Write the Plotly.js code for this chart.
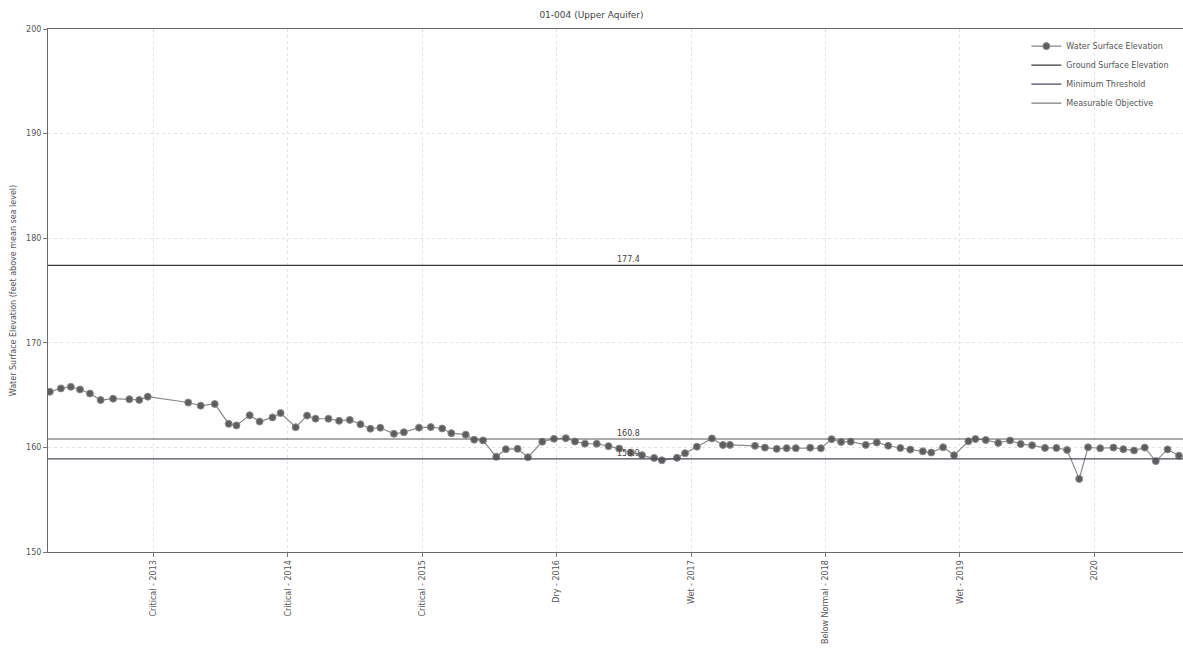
<!DOCTYPE html>
<html><head><meta charset="utf-8">
<script src="https://cdn.plot.ly/plotly-3.0.1.min.js"></script>
<style>html,body{margin:0;padding:0;background:#fff}#chart{width:1183px;height:656px}</style>
</head><body><div id="chart"></div>
<script>
const chartTitle = "01-004 (Upper Aquifer)";
const yAxisTitle = "Water Surface Elevation (feet above mean sea level)";

const sampleDates = [
"2012-03-25","2012-04-24","2012-05-21","2012-06-15","2012-07-12","2012-08-10","2012-09-13","2012-10-27","2012-11-23","2012-12-16",
"2013-04-05","2013-05-09","2013-06-16","2013-07-24","2013-08-14","2013-09-19","2013-10-16","2013-11-20","2013-12-12",
"2014-01-22","2014-02-22","2014-03-17","2014-04-21","2014-05-20","2014-06-18","2014-07-17","2014-08-13","2014-09-09","2014-10-16","2014-11-12","2014-12-23",
"2015-01-24","2015-02-24","2015-03-21","2015-04-29","2015-05-22","2015-06-15","2015-07-21","2015-08-16","2015-09-17","2015-10-15","2015-11-23","2015-12-25",
"2016-01-26","2016-02-20","2016-03-18","2016-04-19","2016-05-21","2016-06-19","2016-07-21","2016-08-20","2016-09-22","2016-10-13","2016-11-23","2016-12-15",
"2017-01-16","2017-02-26","2017-03-28","2017-04-16","2017-06-23","2017-07-20","2017-08-21","2017-09-17","2017-10-12","2017-11-20","2017-12-19",
"2018-01-17","2018-02-12","2018-03-10","2018-04-20","2018-05-20","2018-06-20","2018-07-23","2018-08-19","2018-09-22","2018-10-15","2018-11-16","2018-12-16",
"2019-01-24","2019-02-12","2019-03-12","2019-04-15","2019-05-17","2019-06-15","2019-07-16","2019-08-20","2019-09-20","2019-10-19","2019-11-21","2019-12-15",
"2020-01-17","2020-02-22","2020-03-20","2020-04-18","2020-05-17","2020-06-16","2020-07-18","2020-08-18"
];
const waterElev = [
165.32,165.64,165.79,165.54,165.15,164.53,164.66,164.61,164.54,164.85,
164.29,163.99,164.15,162.25,162.10,163.07,162.47,162.87,163.28,
161.93,163.04,162.75,162.74,162.54,162.63,162.21,161.79,161.88,161.30,161.45,161.89,
161.94,161.81,161.36,161.22,160.74,160.67,159.10,159.83,159.86,159.06,160.54,160.82,
160.88,160.56,160.36,160.35,160.12,159.89,159.50,159.26,158.99,158.77,159.00,159.45,
160.07,160.86,160.23,160.24,160.15,159.98,159.86,159.93,159.93,159.97,159.92,
160.79,160.52,160.55,160.24,160.47,160.16,159.94,159.79,159.63,159.51,160.01,159.25,
160.59,160.80,160.71,160.43,160.66,160.32,160.20,159.95,159.95,159.75,156.99,160.01,
159.92,159.98,159.83,159.71,159.98,158.69,159.81,159.21
];

const groundSurface = 177.4;
const minimumThreshold = 158.9;
const measurableObjective = 160.8;
const lineLabelDate = "2016-07-15";

const xRange = ["2012-03-20", "2020-08-29"];
const yRange = [150, 200];
const yTicks = [150, 160, 170, 180, 190, 200];
const tickDates = ["2013-01-01","2014-01-01","2015-01-01","2016-01-01","2017-01-01","2018-01-01","2019-01-01","2020-01-01"];
const tickLabels = ["Critical - 2013","Critical - 2014","Critical - 2015","Dry - 2016","Wet - 2017","Below Normal - 2018","Wet - 2019","2020"];

const FONT = "DejaVu Sans, Verdana, sans-serif";
const TXT = "#555";

function hline(name, v, color, dash, width) {
  return {x: xRange, y: [v, v], mode: "lines", name: name,
    line: {color: color, width: width, dash: dash}, hoverinfo: "skip"};
}

const traces = [
  {x: sampleDates, y: waterElev, mode: "lines+markers", name: "Water Surface Elevation",
   line: {color: "#8a8a8a", width: 1.2},
   marker: {color: "#5e5e5e", size: 7, line: {color: "#8c8c8c", width: 1}}},
  hline("Ground Surface Elevation", groundSurface, "#3a3a3a", "solid", 1.3),
  hline("Minimum Threshold", minimumThreshold, "#4a4a5a", "solid", 1.1),
  hline("Measurable Objective", measurableObjective, "#5a5a5a", "solid", 1.0)
];

const annotations = [groundSurface, measurableObjective, minimumThreshold].map(v => ({
  x: lineLabelDate, y: v, xref: "x", yref: "y", text: v.toFixed(1), showarrow: false,
  yanchor: "bottom", xanchor: "center", yshift: -1,
  font: {family: FONT, size: 8, color: "#444"}
}));

const layout = {
  width: 1183, height: 656,
  margin: {l: 48, r: 0, t: 29, b: 104},
  paper_bgcolor: "#fff", plot_bgcolor: "#fff",
  font: {family: FONT, size: 8, color: TXT},
  title: {text: chartTitle, x: 0.5, xanchor: "center", y: 0.978, yanchor: "middle",
          font: {family: FONT, size: 9, color: "#444"}},
  xaxis: {type: "date", range: xRange, tickvals: tickDates, ticktext: tickLabels,
          tickangle: -90, ticks: "outside", ticklen: 4, tickcolor: "#777",
          showline: true, mirror: true, linecolor: "#6a6a6a", linewidth: 1,
          showgrid: true, gridcolor: "#e2e2e2", griddash: "dot", gridwidth: 1,
          zeroline: false, tickfont: {family: FONT, size: 8, color: TXT}},
  yaxis: {range: yRange, tickvals: yTicks, ticks: "outside", ticklen: 4, tickcolor: "#777",
          showline: true, mirror: true, linecolor: "#6a6a6a", linewidth: 1,
          showgrid: true, gridcolor: "#e2e2e2", griddash: "dot", gridwidth: 1,
          zeroline: false, tickfont: {family: FONT, size: 8, color: TXT},
          title: {text: yAxisTitle, standoff: 8, font: {family: FONT, size: 8, color: TXT}}},
  legend: {x: 0.862, xanchor: "left", y: 0.995, yanchor: "top", bgcolor: "rgba(255,255,255,0)",
           font: {family: FONT, size: 8, color: TXT}, tracegroupgap: 0, itemwidth: 30},
  annotations: annotations,
  showlegend: true
};

Plotly.newPlot("chart", traces, layout, {displayModeBar: false, staticPlot: true});
</script>
</body></html>
